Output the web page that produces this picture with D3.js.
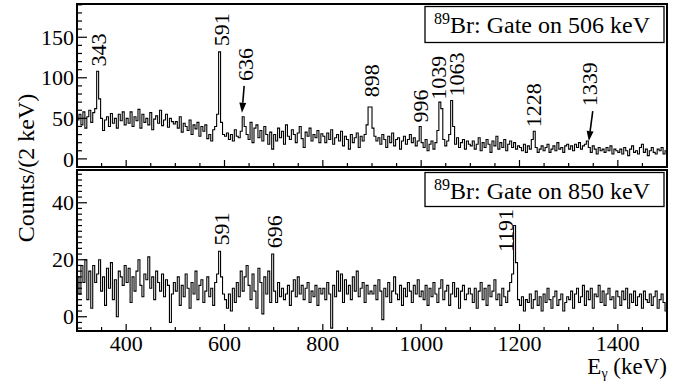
<!DOCTYPE html>
<html>
<head>
<meta charset="utf-8">
<script src="https://cdn.jsdelivr.net/npm/d3@7"></script>
<style>
body{margin:0;background:#fff;}
svg{display:block;}
</style>
</head>
<body>
<div id="container"></div>
<script>
// spectra in 4 keV steps starting at 300 keV
let eStart = 300;
let binWidth = 4;

// gate on 506 keV
let topCounts = [
  48,55,42,58,38,52,60,45,57,62,108,74,50,35,48,52,40,56,44,50,38,55,47,58,42,
  50,44,58,40,52,47,61,38,55,45,50,42,57,36,49,53,44,60,41,48,55,39,50,46,43,
  46,38,52,33,44,40,35,48,30,42,37,45,28,40,34,42,25,30,22,36,40,55,132,45,30,
  28,32,24,30,22,36,28,26,34,52,40,30,24,45,20,38,42,26,35,22,40,30,18,33,12,
  30,22,38,26,34,18,42,28,24,36,30,20,32,40,25,14,33,28,38,22,30,26,35,20,31,
  28,20,32,24,36,18,26,30,22,34,16,28,24,12,30,20,26,32,14,28,22,30,42,64,64,
  38,28,22,26,18,30,24,14,28,20,32,16,24,26,12,22,28,18,24,30,20,26,16,22,40,
  20,14,24,10,18,22,12,20,35,70,62,24,16,22,30,72,40,18,26,14,20,24,12,22,18,
  16,22,12,18,26,10,20,14,24,18,8,22,16,28,12,20,14,24,10,18,22,14,20,12,16,
  14,10,18,8,16,12,24,34,14,8,12,16,10,14,18,8,12,16,10,20,12,14,8,16,18,
  12,16,10,18,14,20,12,16,18,22,14,8,16,12,6,14,10,12,8,14,10,16,6,12,10,
  8,12,6,14,10,4,12,16,8,10,6,14,18,8,12,4,10,14,8,6,12,10,14,6,10
];

// gate on 850 keV
let bottomCounts = [
  14,8,18,12,20,6,16,3,18,12,15,20,9,14,4,17,10,19,6,13,0,16,14,11,18,
  12,17,5,14,9,16,20,11,7,15,13,21,10,14,6,16,12,9,15,7,13,11,-2,8,12,
  9,14,4,11,7,15,10,3,12,8,16,6,11,13,5,9,14,7,10,4,12,15,23,14,8,
  6,3,8,2,10,5,12,7,16,9,14,18,11,6,15,9,3,17,12,1,14,8,16,5,22,
  9,5,12,7,10,6,8,11,4,9,13,7,14,8,11,6,10,12,5,9,7,11,4,10,8,
  10,6,12,8,-4,11,7,16,9,15,5,13,8,11,6,14,9,16,7,10,12,5,11,8,9,
  8,11,6,13,9,-1,10,7,12,5,9,14,8,6,11,4,10,7,12,9,5,11,8,13,7,
  9,6,11,4,10,7,12,8,5,10,13,6,9,11,4,8,12,7,10,3,9,11,6,8,10,
  8,5,10,3,9,12,6,10,4,11,7,9,13,6,8,4,10,7,5,9,12,15,32,19,6,
  4,7,2,6,5,8,3,6,9,4,7,2,8,5,10,6,3,7,9,4,6,8,2,5,7,
  6,9,3,8,10,5,7,11,4,9,6,10,3,8,7,11,5,9,4,8,10,6,7,3,9,
  7,4,9,6,10,3,8,5,9,4,7,8,3,9,6,5,8,4,7,9,3,6,8,5,2
];

let gates = ["506", "850"];

// peak labels: text, where the label sits (keV) and where its lower end is (counts)
let topPeakNames = ["343","591","636","898","996","1039","1063","1228","1339"];
let topPeakE     = [343, 593, 642, 899, 997.6, 1035, 1072, 1229, 1342];
let topPeakY     = [114, 139, 96, 76, 45, 73, 77, 39, 65];
// arrows [e top, count top, e tip, count tip]
let topArrows = [[640, 90, 635.5, 57], [1349, 59, 1341, 22]];

let bottomPeakNames = ["591","696","1191"];
let bottomPeakE     = [594, 701.7, 1172];
let bottomPeakY     = [25, 24, 22.7];

let xTicks = [400, 600, 800, 1000, 1200, 1400];

let w = 683;
let h = 381;
let left = 77, right = 667;

let viz = d3.select("#container")
  .append("svg")
    .attr("width", w)
    .attr("height", h)
    .attr("font-family", "Liberation Serif")
;

let xScale = d3.scaleLinear().domain([300, 1500]).range([left, right]);

function toBins(counts){
  let pts = counts.map(function(d, i){
    return {e: eStart + i*binWidth, v: d};
  });
  // close the last bin
  pts.push({e: eStart + counts.length*binWidth, v: counts[counts.length-1]});
  return pts;
}

let panels = [
  {top: 4, bottom: 167, domain: [-10, 191], major: 50, minor: 10, counts: topCounts,
   names: topPeakNames, pe: topPeakE, py: topPeakY, arrows: topArrows, gate: gates[0]},
  {top: 170, bottom: 331, domain: [-5, 51.5], major: 20, minor: 2, counts: bottomCounts,
   names: bottomPeakNames, pe: bottomPeakE, py: bottomPeakY, arrows: [], gate: gates[1]}
];

panels.forEach(function(p, k){
  let yScale = d3.scaleLinear().domain(p.domain).range([p.bottom, p.top]);
  let g = viz.append("g").classed("panel", true);

  g.append("clipPath").attr("id", "clip" + k)
    .append("rect")
      .attr("x", left).attr("y", p.top)
      .attr("width", right-left).attr("height", p.bottom-p.top);

  // the histogram as a step line
  let line = d3.line()
    .x(function(d){ return xScale(d.e); })
    .y(function(d){ return yScale(d.v); })
    .curve(d3.curveStepAfter);

  g.append("path")
    .datum(toBins(p.counts))
    .attr("d", line)
    .attr("fill", "none")
    .attr("stroke", "#000")
    .attr("stroke-width", 1.1)
    .attr("clip-path", "url(#clip" + k + ")");

  // y ticks, pointing into the frame
  let yMinor = d3.range(Math.ceil(p.domain[0]/p.minor)*p.minor, p.domain[1], p.minor);
  g.selectAll(".ytick").data(yMinor).enter()
    .append("line")
      .attr("x1", left)
      .attr("x2", function(d){ return left + (d % p.major == 0 ? 10 : 5); })
      .attr("y1", function(d){ return yScale(d); })
      .attr("y2", function(d){ return yScale(d); })
      .attr("stroke", "#000")
      .attr("stroke-width", 1.2);

  let yMajor = d3.range(0, p.domain[1], p.major);
  g.selectAll(".ylab").data(yMajor).enter()
    .append("text")
      .attr("x", left - 3)
      .attr("y", function(d){ return yScale(d); })
      .attr("dy", "0.35em")
      .attr("text-anchor", "end")
      .attr("font-size", 22)
      .text(function(d){ return d; });

  // x ticks along the bottom of the panel
  let xMinor = d3.range(350, 1500, 50);
  g.selectAll(".xtick").data(xMinor).enter()
    .append("line")
      .attr("x1", function(d){ return xScale(d); })
      .attr("x2", function(d){ return xScale(d); })
      .attr("y1", p.bottom)
      .attr("y2", function(d){ return p.bottom - (d % 200 == 0 ? 7 : 4); })
      .attr("stroke", "#000")
      .attr("stroke-width", 1.2);

  // frame
  g.append("rect")
    .attr("x", left).attr("y", p.top)
    .attr("width", right-left).attr("height", p.bottom-p.top)
    .attr("fill", "none")
    .attr("stroke", "#000")
    .attr("stroke-width", 2);

  // peak labels, rotated
  p.names.forEach(function(name, i){
    g.append("text")
      .attr("transform", "translate(" + xScale(p.pe[i]) + "," + yScale(p.py[i]) + ") rotate(-90)")
      .attr("dy", "0.35em")
      .attr("font-size", 22)
      .text(name);
  });

  p.arrows.forEach(function(a){
    let x0 = xScale(a[0]), y0 = yScale(a[1]);
    let x1 = xScale(a[2]), y1 = yScale(a[3]);
    let ang = Math.atan2(y1-y0, x1-x0);
    let len = 10, half = 3.5;
    let bx = x1 - len*Math.cos(ang), by = y1 - len*Math.sin(ang);
    g.append("line")
      .attr("x1", x0).attr("y1", y0).attr("x2", bx).attr("y2", by)
      .attr("stroke", "#000").attr("stroke-width", 1.6);
    g.append("path")
      .attr("d", "M" + x1 + "," + y1 +
        "L" + (bx + half*Math.sin(ang)) + "," + (by - half*Math.cos(ang)) +
        "L" + (bx - half*Math.sin(ang)) + "," + (by + half*Math.cos(ang)) + "Z")
      .attr("fill", "#000");
  });

  // legend box
  let boxW = 239, boxH = (k == 0 ? 36 : 34);
  let bx = right - 3 - boxW, by = p.top + 2.5;
  g.append("rect")
    .attr("x", bx).attr("y", by)
    .attr("width", boxW).attr("height", boxH)
    .attr("fill", "#fff")
    .attr("stroke", "#000")
    .attr("stroke-width", 1.3);
  let lt = g.append("text")
    .attr("x", bx + 9)
    .attr("y", by + 26)
    .attr("font-size", 24);
  lt.append("tspan").attr("font-size", 16).attr("dy", -9).text("89");
  lt.append("tspan").attr("dy", 9).text("Br: Gate on " + p.gate + " keV");
});

// x tick labels under the lower panel
viz.selectAll(".xlab").data(xTicks).enter()
  .append("text")
    .attr("x", function(d){ return xScale(d); })
    .attr("y", 351)
    .attr("text-anchor", "middle")
    .attr("font-size", 22)
    .text(function(d){ return d; });

// axis titles
viz.append("text")
  .attr("transform", "translate(34,168) rotate(-90)")
  .attr("text-anchor", "middle")
  .attr("font-size", 24)
  .text("Counts/(2 keV)");

let xt = viz.append("text")
  .attr("x", right)
  .attr("y", 374)
  .attr("text-anchor", "end")
  .attr("font-size", 23);
xt.append("tspan").text("E");
xt.append("tspan").attr("font-size", 14).attr("dy", 4).text("γ");
xt.append("tspan").attr("dy", -4).text(" (keV)");
</script>
</body>
</html>
